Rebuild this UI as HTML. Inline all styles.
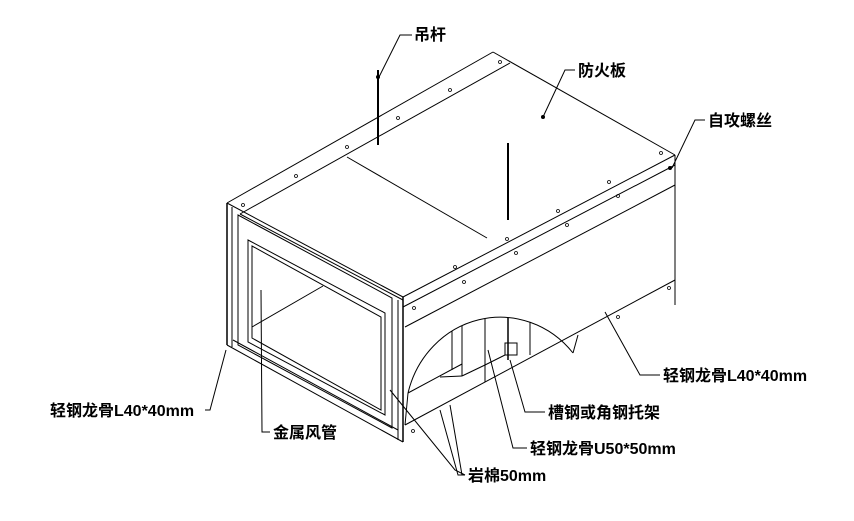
<!DOCTYPE html>
<html><head><meta charset="utf-8"><style>
html,body{margin:0;padding:0;background:#fff;width:854px;height:521px;overflow:hidden}
svg{display:block}
text{font-family:"Liberation Sans","Noto Sans CJK SC",sans-serif;font-size:16px;font-weight:bold;fill:#000}
</style></head><body>
<svg width="854" height="521" viewBox="0 0 854 521" xmlns="http://www.w3.org/2000/svg">
<defs><clipPath id="cut"><path d="M408,393 A95,100 0 0 1 573,353 L573,420 L408,420 Z"/></clipPath></defs>
<g stroke="#000" stroke-width="1" fill="none">
<line x1="227" y1="203" x2="493" y2="52"/>
<line x1="240" y1="214" x2="510" y2="63"/>
<line x1="493" y1="52" x2="675" y2="155"/>
<line x1="347" y1="157" x2="487" y2="238"/>
<line x1="403" y1="297" x2="675" y2="155"/>
<line x1="403" y1="307" x2="675" y2="165"/>
<line x1="227" y1="203" x2="403" y2="297"/>
<line x1="240" y1="214" x2="403" y2="300"/>
<line x1="675" y1="155" x2="675" y2="305"/>
<line x1="405" y1="327" x2="675" y2="185"/>
<line x1="405" y1="425" x2="675" y2="280"/>
<line x1="227" y1="203" x2="227" y2="345" stroke-width="1.5"/>
<line x1="232" y1="207" x2="232" y2="347"/>
<line x1="403" y1="297" x2="403" y2="442" stroke-width="1.5"/>
<line x1="398" y1="300" x2="398" y2="440"/>
<line x1="227" y1="345" x2="403" y2="442"/>
<line x1="233" y1="340" x2="398" y2="430"/>
<polygon points="238,215 392,298 392,428 238,345"/>
<polygon points="248,240 385,313 385,415 248,342"/>
<polygon points="252,246 381,317 381,410 252,338"/>
<line x1="252" y1="327" x2="323" y2="286"/>
<path d="M408,393 A95,100 0 0 1 573,353"/>
<line x1="408" y1="393" x2="405" y2="425"/>
<line x1="573" y1="353" x2="578" y2="335"/>
<g clip-path="url(#cut)">
<line x1="408" y1="393" x2="462" y2="364"/>
<line x1="452" y1="300" x2="452" y2="370"/>
<line x1="462" y1="300" x2="462" y2="376"/>
<line x1="485" y1="300" x2="485" y2="382"/>
<line x1="530" y1="300" x2="530" y2="355"/>
<line x1="440" y1="377" x2="462" y2="376"/>
<line x1="462" y1="376" x2="485" y2="365"/>
<rect x="505" y="343" width="12" height="12"/>
<line x1="485" y1="365" x2="505" y2="355"/>
<line x1="508" y1="300" x2="508" y2="360" stroke-width="1.5"/>
</g>
<line x1="378" y1="70" x2="378" y2="145" stroke-width="2"/>
<line x1="508" y1="143" x2="508" y2="220" stroke-width="2"/>
<polyline points="412,35 400,35 379,77"/>
<polyline points="575,70 565,70 543,117"/>
<polyline points="705,120 695,120 672,168"/>
<polyline points="660,375 640,375 605,312"/>
<polyline points="545,412 525,412 510,360"/>
<polyline points="527,448 513,448 488,350"/>
<polyline points="465,475 462,475 450,405"/>
<polyline points="465,475 458,475 440,410"/>
<polyline points="465,475 455,470 390,390"/>
<polyline points="270,432 262,432 261,290"/>
<polyline points="205,410 210,410 226,350"/>
</g>
<g fill="#000">
<circle cx="378" cy="77" r="2"/><circle cx="543" cy="117" r="2"/><circle cx="670" cy="168" r="2"/>
<g fill="none" stroke="#000" stroke-width="0.8">
<circle cx="243" cy="205" r="1.5"/><circle cx="296" cy="176" r="1.5"/><circle cx="347" cy="147" r="1.5"/><circle cx="398" cy="118" r="1.5"/><circle cx="450" cy="90" r="1.5"/><circle cx="500" cy="62" r="1.5"/>
<circle cx="414" cy="308" r="1.5"/><circle cx="455" cy="267" r="1.5"/><circle cx="507" cy="239" r="1.5"/><circle cx="558" cy="211" r="1.5"/><circle cx="609" cy="182" r="1.5"/><circle cx="661" cy="153" r="1.5"/>
<circle cx="464" cy="282" r="1.5"/><circle cx="516" cy="253" r="1.5"/><circle cx="567" cy="225" r="1.5"/><circle cx="618" cy="196" r="1.5"/>
<circle cx="413" cy="431" r="1.5"/><circle cx="618" cy="317" r="1.5"/><circle cx="669" cy="288" r="1.5"/>
</g>
</g>
<text x="414" y="40">吊杆</text>
<text x="578" y="76">防火板</text>
<text x="708" y="126">自攻螺丝</text>
<text x="663" y="381">轻钢龙骨L40*40mm</text>
<text x="548" y="418">槽钢或角钢托架</text>
<text x="530" y="454">轻钢龙骨U50*50mm</text>
<text x="468" y="481">岩棉50mm</text>
<text x="273" y="438">金属风管</text>
<text x="50" y="416">轻钢龙骨L40*40mm</text>
</svg>
</body></html>
